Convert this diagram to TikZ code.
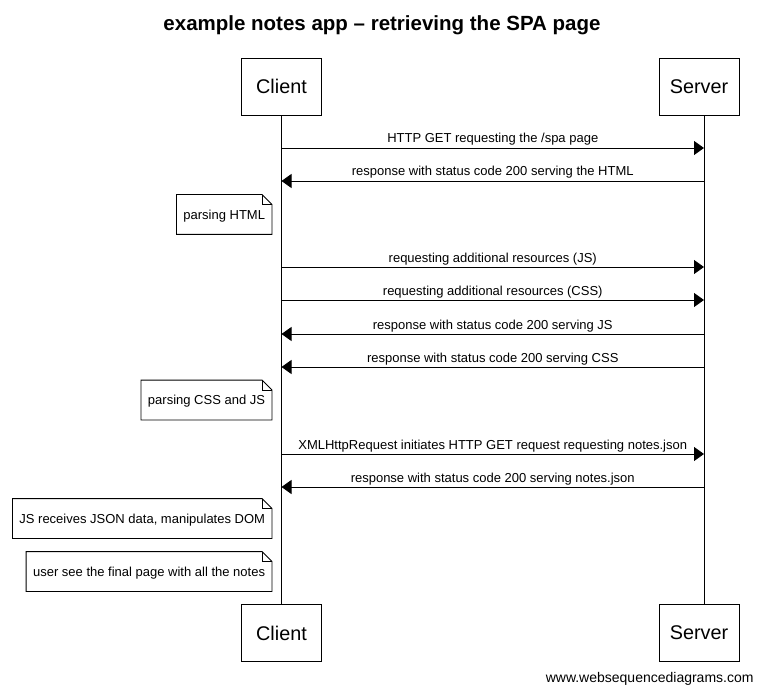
\documentclass[tikz,border=0pt]{standalone}
\usepackage{fontspec}
\setmainfont{Liberation Sans}
\usetikzlibrary{arrows.meta,calc}
\tikzset{
  x=1pt,y=-1pt,
  every path/.style={line width=0.9pt},
  actor/.style={draw,minimum width=80pt,minimum height=57pt,font=\fontsize{19.8}{22}\selectfont,inner sep=0pt},
  msg/.style={-{Triangle[length=10pt,width=14pt]}},
  lbl/.style={font=\fontsize{13}{15}\selectfont,inner sep=0pt,anchor=base,yshift=5pt},
  notebox/.style={anchor=east,minimum height=39pt,inner xsep=6.5pt,text depth=0pt,font=\fontsize{13}{15}\selectfont},
}
\newcommand{\notefold}[1]{%
  \draw (#1.north west) -- ($(#1.north east)+(-10,0)$) -- ($(#1.north east)+(0,10)$) -- (#1.south east) -- (#1.south west) -- cycle;
  \draw ($(#1.north east)+(-10,0)$) -- ($(#1.north east)+(-10,10)$) -- ($(#1.north east)+(0,10)$);}
\begin{document}
\begin{tikzpicture}
\useasboundingbox (0,0) rectangle (763,695);
\node[font=\bfseries\fontsize{20.5}{24}\selectfont] (title) at (382,25) {example notes app -- retrieving the SPA page};
\node[actor] (ct) at (281.5,86.5) {Client};
\node[actor] (st) at (699,86.5) {Server};
\node[actor] (cb) at (281.5,633) {Client};
\node[actor] (sb) at (699,633) {Server};
\coordinate (cl) at (281.5,0);
\coordinate (sl) at (704,0);
\draw (ct.south) -- (cb.north);
\draw (st.south -| sl) -- (sb.north -| sl);
% messages
\foreach \i/\y in {1/148,2/181,3/267,4/300,5/334,6/367,7/454,8/487}{
  \coordinate (c\i) at (cl |- 0,\y);
  \coordinate (s\i) at (sl |- 0,\y);
}
\draw[msg] (c1) -- node[lbl]{HTTP GET requesting the /spa page} (s1);
\draw[msg] (s2) -- node[lbl]{response with status code 200 serving the HTML} (c2);
\draw[msg] (c3) -- node[lbl]{requesting additional resources (JS)} (s3);
\draw[msg] (c4) -- node[lbl]{requesting additional resources (CSS)} (s4);
\draw[msg] (s5) -- node[lbl]{response with status code 200 serving JS} (c5);
\draw[msg] (s6) -- node[lbl]{response with status code 200 serving CSS} (c6);
\draw[msg] (c7) -- node[lbl]{XMLHttpRequest initiates HTTP GET request requesting notes.json} (s7);
\draw[msg] (s8) -- node[lbl]{response with status code 200 serving notes.json} (c8);
% notes
\node[notebox] (n1) at (272,214.5) {parsing HTML};
\notefold{n1}
\node[notebox] (n2) at (272,400) {parsing CSS and JS};
\notefold{n2}
\node[notebox] (n3) at (272,518.5) {JS receives JSON data, manipulates DOM};
\notefold{n3}
\node[notebox] (n4) at (272,571.5) {user see the final page with all the notes};
\notefold{n4}
\node[anchor=east,font=\fontsize{14}{16}\selectfont,inner sep=0pt] (web) at (754,679) {www.websequencediagrams.com};
\end{tikzpicture}
\end{document}
